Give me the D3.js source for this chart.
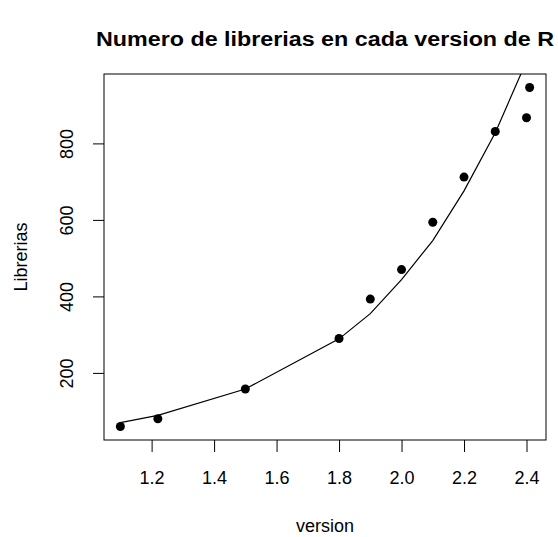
<!DOCTYPE html>
<html>
<head>
<meta charset="utf-8">
<script src="https://cdn.jsdelivr.net/npm/d3@7"></script>
<style>
  body { margin: 0; background: #fff; }
  text { font-family: "Liberation Sans", Arial, sans-serif; fill: #000; }
</style>
</head>
<body>
<div id="chart"></div>
<script>
// R versions and number of packages (points)
const versions = [1.1, 1.22, 1.5, 1.8, 1.9, 2.0, 2.1, 2.2, 2.3, 2.4, 2.41];
const librerias = [60, 80, 158, 290, 393, 470, 594, 712, 831, 867, 946];
// fitted curve values at the same versions (drawn with lines())
const ajuste = [70, 89, 158, 289, 355, 444, 546, 676, 828, 1015, 1036];

const xTicks = [1.2, 1.4, 1.6, 1.8, 2.0, 2.2, 2.4];
const yTicks = [200, 400, 600, 800];

const width = 558, height = 537;
const margin = {top: 74, right: 12, bottom: 97, left: 104};

const svg = d3.select('#chart').append('svg')
    .attr('width', width)
    .attr('height', height);

// R style 4% axis extension
const xr = d3.extent(versions), yr = d3.extent(librerias);
const xPad = (xr[1] - xr[0]) * 0.04, yPad = (yr[1] - yr[0]) * 0.04;

const x = d3.scaleLinear()
    .domain([xr[0] - xPad, xr[1] + xPad])
    .range([margin.left, width - margin.right]);
const y = d3.scaleLinear()
    .domain([yr[0] - yPad, yr[1] + yPad])
    .range([height - margin.bottom, margin.top]);

svg.append('clipPath').attr('id', 'plotArea')
    .append('rect')
    .attr('x', margin.left).attr('y', margin.top)
    .attr('width', width - margin.left - margin.right)
    .attr('height', height - margin.top - margin.bottom);

// axes
const xAxis = svg.append('g')
    .attr('transform', `translate(0,${height - margin.bottom})`)
    .call(d3.axisBottom(x).tickValues(xTicks).tickFormat(d3.format('.1f')).tickSize(12).tickPadding(19));
const yAxis = svg.append('g')
    .attr('transform', `translate(${margin.left},0)`)
    .call(d3.axisLeft(y).tickValues(yTicks).tickSize(11));

[xAxis, yAxis].forEach(g => {
    g.select('.domain').remove();
    g.selectAll('line').attr('stroke', '#000');
    g.selectAll('text').style('font-size', '18px').attr('fill', '#222');
});

// y tick labels are vertical, as in R
yAxis.selectAll('.tick text')
    .attr('x', 0).attr('y', 0).attr('dy', 0)
    .attr('text-anchor', 'middle')
    .attr('transform', 'translate(-31,0) rotate(-90)');

// box
svg.append('rect')
    .attr('x', margin.left).attr('y', margin.top)
    .attr('width', width - margin.left - margin.right)
    .attr('height', height - margin.top - margin.bottom)
    .attr('fill', 'none').attr('stroke', '#000');

// fitted line
const line = d3.line()
    .x((d, i) => x(versions[i]))
    .y(d => y(d));

svg.append('path')
    .datum(ajuste)
    .attr('clip-path', 'url(#plotArea)')
    .attr('d', line)
    .attr('fill', 'none')
    .attr('stroke', '#000')
    .attr('stroke-width', 1.2);

// points
svg.append('g')
    .selectAll('circle')
    .data(librerias)
    .enter().append('circle')
    .attr('cx', (d, i) => x(versions[i]))
    .attr('cy', d => y(d))
    .attr('r', 4.5)
    .attr('fill', '#000');

// titles
const cx = (margin.left + width - margin.right) / 2;
svg.append('text')
    .attr('x', cx)
    .attr('y', 46)
    .attr('text-anchor', 'middle')
    .attr('textLength', 458)
    .attr('lengthAdjust', 'spacingAndGlyphs')
    .style('font-size', '20px')
    .style('font-weight', 'bold')
    .text('Numero de librerias en cada version de R');

svg.append('text')
    .attr('x', cx)
    .attr('y', 532)
    .attr('text-anchor', 'middle')
    .style('font-size', '18px')
    .attr('fill', '#222')
    .text('version');

svg.append('text')
    .attr('transform', `translate(27,${(margin.top + height - margin.bottom) / 2}) rotate(-90)`)
    .attr('text-anchor', 'middle')
    .style('font-size', '18px')
    .attr('fill', '#222')
    .text('Librerias');
</script>
</body>
</html>
